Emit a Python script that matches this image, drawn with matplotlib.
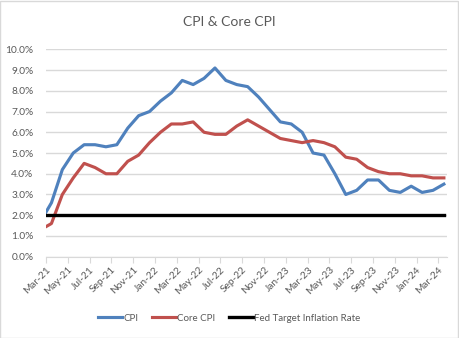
import matplotlib.pyplot as plt
import numpy as np
from matplotlib.patches import Rectangle
from matplotlib.ticker import FuncFormatter

# ── data (Feb-21 .. Mar-24, year-over-year %) ────────────────────────────────

months = [
    "Feb-21", "Mar-21", "Apr-21", "May-21", "Jun-21", "Jul-21", "Aug-21", "Sep-21",
    "Oct-21", "Nov-21", "Dec-21", "Jan-22", "Feb-22", "Mar-22", "Apr-22", "May-22",
    "Jun-22", "Jul-22", "Aug-22", "Sep-22", "Oct-22", "Nov-22", "Dec-22", "Jan-23",
    "Feb-23", "Mar-23", "Apr-23", "May-23", "Jun-23", "Jul-23", "Aug-23", "Sep-23",
    "Oct-23", "Nov-23", "Dec-23", "Jan-24", "Feb-24", "Mar-24",
]
cpi = [
    1.7, 2.6, 4.2, 5.0, 5.4, 5.4, 5.3, 5.4, 6.2, 6.8, 7.0, 7.5, 7.9, 8.5, 8.3, 8.6,
    9.1, 8.5, 8.3, 8.2, 7.7, 7.1, 6.5, 6.4, 6.0, 5.0, 4.9, 4.0, 3.0, 3.2, 3.7, 3.7,
    3.2, 3.1, 3.4, 3.1, 3.2, 3.5,
]
core_cpi = [
    1.3, 1.6, 3.0, 3.8, 4.5, 4.3, 4.0, 4.0, 4.6, 4.9, 5.5, 6.0, 6.4, 6.4, 6.5, 6.0,
    5.9, 5.9, 6.3, 6.6, 6.3, 6.0, 5.7, 5.6, 5.5, 5.6, 5.5, 5.3, 4.8, 4.7, 4.3, 4.1,
    4.0, 4.0, 3.9, 3.9, 3.8, 3.8,
]
fed_target = [2.0] * len(months)

# axis labels every second month, starting Mar-21
tick_labels = months[1::2]

BLUE = "#4F81BD"
RED = "#C0504D"
GRID = "#D9D9D9"
TEXT = "#595959"

plt.rcParams["font.family"] = ["Lato", "DejaVu Sans"]

fig = plt.figure(figsize=(4.59, 3.38), dpi=100)
ax = fig.add_axes([0.1002, 0.2405, 0.874, 0.6136])

# each month plotted mid-way between its month-start tick
x = np.arange(len(months)) - 0.5
ax.plot(x, cpi, color=BLUE, lw=2.25, label="CPI", solid_joinstyle="round")
ax.plot(x, core_cpi, color=RED, lw=2.25, label="Core CPI", solid_joinstyle="round")
ax.plot(x, fed_target, color="black", lw=2.4, label="Fed Target Inflation Rate")

ax.set_xlim(0, 36.8)
ax.set_ylim(0, 10)
ax.set_yticks(np.arange(0, 10.5, 1.0))
ax.yaxis.set_major_formatter(FuncFormatter(lambda v, _: f"{v:.1f}%"))
ax.set_xticks(np.arange(len(tick_labels)) * 2)
ax.set_xticklabels(tick_labels, rotation=45, ha="right", rotation_mode="anchor")

ax.grid(axis="y", color=GRID, lw=1)
ax.set_axisbelow(True)
for side in ["top", "right", "left"]:
    ax.spines[side].set_visible(False)
ax.spines["bottom"].set_color(GRID)
ax.tick_params(axis="y", length=0, pad=9, labelsize=7.3, labelcolor=TEXT)
ax.tick_params(axis="x", length=4, color=GRID, pad=2, labelsize=7.3, labelcolor=TEXT)

fig.text(0.5, 0.935, "CPI & Core CPI", ha="center", va="center", fontsize=10, color=TEXT)

fig.legend(loc="center", bbox_to_anchor=(0.5, 0.058), ncol=3, frameon=False,
           fontsize=7, labelcolor=TEXT, handlelength=2.4, handletextpad=0.2,
           columnspacing=1.4)

# light chart-area border
fig.patches.append(Rectangle((0.001, 0.001), 0.997, 0.996, transform=fig.transFigure,
                             fill=False, edgecolor=GRID, lw=1))

fig.savefig("out.png", dpi=100)
